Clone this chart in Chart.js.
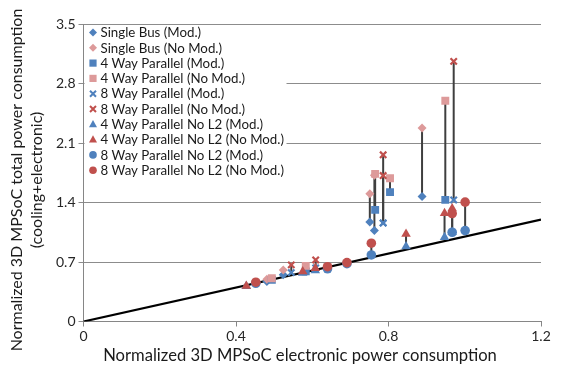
<!DOCTYPE html>
<html>
<head>
<meta charset="utf-8">
<script src="https://cdn.jsdelivr.net/npm/chart.js@4.4.1/dist/chart.umd.min.js"></script>
<style>
  html, body { margin: 0; padding: 0; background: #fff; }
  #wrap { width: 562px; height: 371px; }
</style>
</head>
<body>
<div id="wrap"><canvas id="chart" width="562" height="371"></canvas></div>
<script>
// tick labels
const xTicks = [0, 0.4, 0.8, 1.2];
const yTicks = [0, 0.7, 1.4, 2.1, 2.8, 3.5];

// axis titles
const xTitle = "Normalized 3D MPSoC electronic power consumption";
const yTitle = ["Normalized 3D MPSoC total power consumption", "(cooling+electronic)"];

// series: shared x (electronic power), y with and without modulation
const singleBusX = [0.751, 0.763, 0.888, 0.524, 0.481];
const singleBusMod = [1.172, 1.07, 1.47, 0.55, 0.47];
const singleBusNoMod = [1.502, 1.72, 2.276, 0.607, 0.497];

const way4X = [0.765, 0.804, 0.949, 0.583, 0.494];
const way4Mod = [1.313, 1.522, 1.431, 0.59, 0.49];
const way4NoMod = [1.737, 1.686, 2.597, 0.654, 0.509];

const way8X = [0.786, 0.786, 0.971, 0.545, 0.609];
const way8Mod = [1.157, 1.16, 1.43, 0.575, 0.63];
const way8NoMod = [1.961, 1.717, 3.06, 0.666, 0.724];

const way4NoL2X = [0.846, 0.947, 0.967, 0.427, 0.608, 0.575];
const way4NoL2Mod = [0.881, 0.992, 1.05, 0.415, 0.6, 0.57];
const way4NoL2NoMod = [1.03, 1.274, 1.33, 0.418, 0.627, 0.587];

const way8NoL2X = [0.755, 1.001, 0.967, 0.452, 0.691, 0.64];
const way8NoL2Mod = [0.783, 1.07, 1.05, 0.45, 0.68, 0.62];
const way8NoL2NoMod = [0.921, 1.404, 1.27, 0.462, 0.693, 0.645];

// y = x reference line
const refX = [0, 1.2];
const refY = [0, 1.2];

const BLUE = "#4f81bd";
const PINK = "#dd9a9a";
const RED = "#c0504d";
const FONT = "Lato";

function pts(xs, ys) {
  return xs.map((x, i) => ({ x: x, y: ys[i] }));
}

const series = [
  { label: "Single Bus (Mod.)", x: singleBusX, y: singleBusMod, color: BLUE, style: "rectRot", r: 4.5 },
  { label: "Single Bus (No Mod.)", x: singleBusX, y: singleBusNoMod, color: PINK, style: "rectRot", r: 4.5 },
  { label: "4 Way Parallel (Mod.)", x: way4X, y: way4Mod, color: BLUE, style: "rect", r: 5.6 },
  { label: "4 Way Parallel (No Mod.)", x: way4X, y: way4NoMod, color: PINK, style: "rect", r: 5.6 },
  { label: "8 Way Parallel (Mod.)", x: way8X, y: way8Mod, color: BLUE, style: "crossRot", r: 4.5 },
  { label: "8 Way Parallel (No Mod.)", x: way8X, y: way8NoMod, color: RED, style: "crossRot", r: 4.5 },
  { label: "4 Way Parallel No L2 (Mod.)", x: way4NoL2X, y: way4NoL2Mod, color: BLUE, style: "triangle", r: 5.5 },
  { label: "4 Way Parallel No L2 (No Mod.)", x: way4NoL2X, y: way4NoL2NoMod, color: RED, style: "triangle", r: 5.5 },
  { label: "8 Way Parallel No L2 (Mod.)", x: way8NoL2X, y: way8NoL2Mod, color: BLUE, style: "circle", r: 4.8 },
  { label: "8 Way Parallel No L2 (No Mod.)", x: way8NoL2X, y: way8NoL2NoMod, color: RED, style: "circle", r: 4.8 }
];

const datasets = series.map((s, i) => ({
  label: s.label,
  data: pts(s.x, s.y),
  pointStyle: s.style,
  pointRadius: s.r,
  backgroundColor: s.color,
  borderColor: s.color,
  borderWidth: s.style === "crossRot" ? 2.2 : 0,
  showLine: false,
  order: 20 - i
}));

datasets.push({
  label: "ref",
  data: pts(refX, refY),
  showLine: true,
  borderColor: "#000",
  borderWidth: 2.2,
  pointRadius: 0,
  order: 100
});

// vertical lines between Mod and No Mod values
const dropLines = {
  id: "dropLines",
  beforeDatasetsDraw(chart) {
    const { ctx, scales } = chart;
    ctx.save();
    ctx.strokeStyle = "#3f3f3f";
    ctx.lineWidth = 2;
    for (let i = 0; i < series.length; i += 2) {
      const a = series[i], b = series[i + 1];
      a.x.forEach((x, k) => {
        const px = scales.x.getPixelForValue(x);
        ctx.beginPath();
        ctx.moveTo(px, scales.y.getPixelForValue(a.y[k]));
        ctx.lineTo(px, scales.y.getPixelForValue(b.y[k]));
        ctx.stroke();
      });
    }
    ctx.restore();
  }
};

function marker(ctx, style, color, x, y) {
  ctx.fillStyle = color;
  ctx.strokeStyle = color;
  ctx.beginPath();
  if (style === "rectRot") {
    ctx.moveTo(x, y - 4); ctx.lineTo(x + 4, y); ctx.lineTo(x, y + 4); ctx.lineTo(x - 4, y);
    ctx.closePath(); ctx.fill();
  } else if (style === "rect") {
    ctx.rect(x - 3.6, y - 3.6, 7.2, 7.2); ctx.fill();
  } else if (style === "crossRot") {
    ctx.lineWidth = 2;
    ctx.moveTo(x - 3, y - 3); ctx.lineTo(x + 3, y + 3);
    ctx.moveTo(x + 3, y - 3); ctx.lineTo(x - 3, y + 3);
    ctx.stroke();
  } else if (style === "triangle") {
    ctx.moveTo(x, y - 4.3); ctx.lineTo(x + 4, y + 3); ctx.lineTo(x - 4, y + 3);
    ctx.closePath(); ctx.fill();
  } else {
    ctx.arc(x, y, 3.8, 0, Math.PI * 2); ctx.fill();
  }
}

// legend drawn inside the plot, top left
const innerLegend = {
  id: "innerLegend",
  afterDatasetsDraw(chart) {
    const { ctx, chartArea } = chart;
    ctx.save();
    ctx.fillStyle = "#fff";
    ctx.fillRect(chartArea.left + 1, chartArea.top + 2, 202, 152);
    ctx.font = "13.3px " + FONT;
    ctx.textBaseline = "middle";
    series.forEach((s, i) => {
      const y = chartArea.top + 8.5 + i * 15.3;
      marker(ctx, s.style, s.color, chartArea.left + 9.5, y);
      ctx.fillStyle = "#1a1a1a";
      ctx.fillText(s.label, chartArea.left + 17, y + 0.5);
    });
    ctx.restore();
  }
};

// axis titles, placed like the original (slightly off the plot centre)
const axisTitles = {
  id: "axisTitles",
  afterDraw(chart) {
    const { ctx } = chart;
    ctx.save();
    ctx.fillStyle = "#1a1a1a";
    ctx.textAlign = "center";
    ctx.textBaseline = "middle";
    ctx.font = "16.6px " + FONT;
    ctx.fillText(xTitle, 300, 356);
    ctx.font = "16px " + FONT;
    ctx.translate(0, 180);
    ctx.rotate(-Math.PI / 2);
    ctx.fillText(yTitle[0], 0, 17);
    ctx.fillText(yTitle[1], 0, 37);
    ctx.restore();
  }
};

new Chart(document.getElementById("chart"), {
  type: "scatter",
  data: { datasets: datasets },
  plugins: [dropLines, innerLegend, axisTitles],
  options: {
    responsive: false,
    animation: false,
    layout: { padding: { top: 24, right: 21, left: 0, bottom: 0 } },
    plugins: { legend: { display: false }, tooltip: { enabled: false } },
    scales: {
      x: {
        type: "linear",
        min: 0,
        max: 1.2,
        afterBuildTicks: s => { s.ticks = xTicks.map(v => ({ value: v })); },
        afterFit: s => { s.height = 49.5; },
        grid: { drawOnChartArea: false, drawTicks: true, tickLength: 5, color: "#868686" },
        border: { color: "#868686", width: 1 },
        ticks: { font: { family: FONT, size: 14 }, color: "#262626", padding: 2, maxRotation: 0, callback: v => String(v) }
      },
      y: {
        type: "linear",
        min: 0,
        max: 3.5,
        afterBuildTicks: s => { s.ticks = yTicks.map(v => ({ value: v })); },
        afterFit: s => { s.width = 83.5; },
        grid: { color: "#8c8c8c", tickLength: 5, lineWidth: 1 },
        border: { color: "#868686", width: 1 },
        ticks: { font: { family: FONT, size: 14 }, color: "#262626", padding: 3, callback: v => String(v) }
      }
    }
  }
});
</script>
</body>
</html>
